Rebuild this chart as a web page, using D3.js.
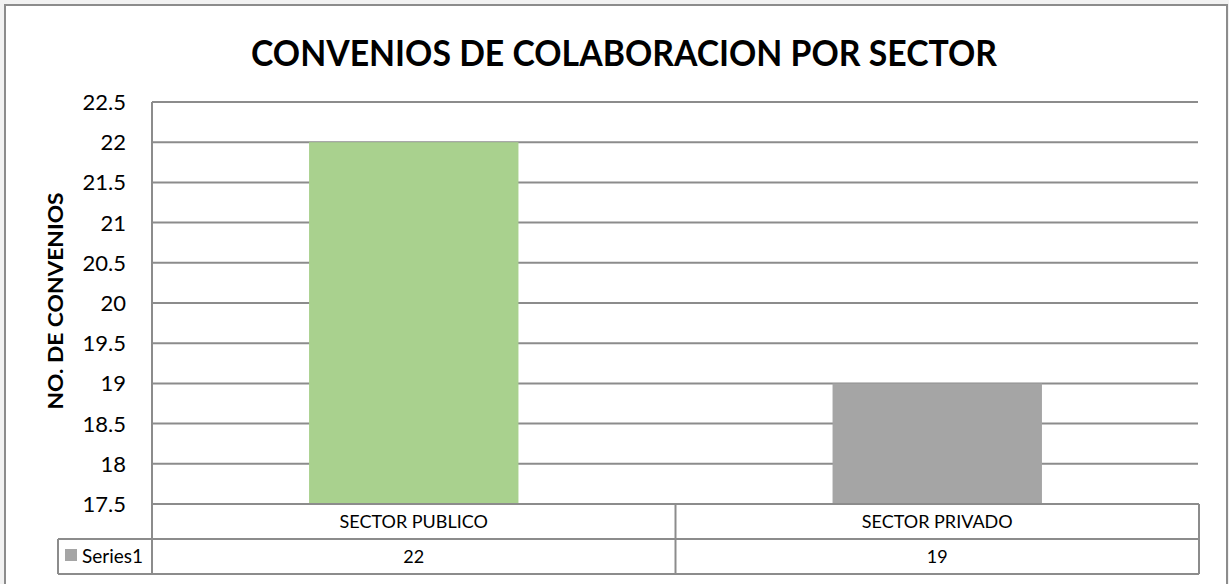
<!DOCTYPE html>
<html>
<head>
<meta charset="utf-8">
<script src="https://cdn.jsdelivr.net/npm/d3@7"></script>
<style>
  html, body { margin: 0; padding: 0; background: #f2f2f2; }
  svg { display: block; }
</style>
</head>
<body>
<div id="chart"></div>
<script>
// data
var categories = ['SECTOR PUBLICO', 'SECTOR PRIVADO'];
var values = [22, 19];
var barColors = ['#a9d18e', '#a5a5a5'];
var seriesName = 'Series1';
var yTicks = [17.5, 18, 18.5, 19, 19.5, 20, 20.5, 21, 21.5, 22, 22.5];

var width = 1229;
var height = 584;
var plotLeft = 152, plotRight = 1199, plotTop = 102, plotBottom = 504;
var rowH = 35;
var lineColor = '#8c8c8c';
var font = 'Lato, "Open Sans", sans-serif';

var svg = d3.select('#chart')
  .append('svg')
  .attr('width', width)
  .attr('height', height);

// chart area
svg.append('rect')
  .attr('x', 5).attr('y', 5)
  .attr('width', 1222).attr('height', 600)
  .attr('fill', 'white')
  .attr('stroke', lineColor)
  .attr('stroke-width', 2);

var x = d3.scaleBand()
  .domain(categories)
  .range([plotLeft, plotRight])
  .paddingInner(0.6)
  .paddingOuter(0.3);

var y = d3.scaleLinear()
  .domain([17.5, 22.5])
  .range([plotBottom, plotTop]);

// gridlines
svg.selectAll('line.grid')
  .data(yTicks)
  .enter()
  .append('line')
  .attr('class', 'grid')
  .attr('x1', plotLeft)
  .attr('x2', plotRight - 1)
  .attr('y1', d => y(d))
  .attr('y2', d => y(d))
  .attr('stroke', lineColor)
  .attr('stroke-width', 2);

// tick labels
svg.selectAll('text.tick')
  .data(yTicks)
  .enter()
  .append('text')
  .attr('class', 'tick')
  .attr('x', 126)
  .attr('y', d => y(d))
  .attr('dy', '0.36em')
  .attr('text-anchor', 'end')
  .style('font-family', font)
  .style('font-size', '22px')
  .attr('fill', '#000')
  .text(d => String(d));

// bars
svg.selectAll('rect.bar')
  .data(values)
  .enter()
  .append('rect')
  .attr('class', 'bar')
  .attr('x', (d, i) => x(categories[i]))
  .attr('width', x.bandwidth())
  .attr('y', d => y(d))
  .attr('height', d => plotBottom - y(d))
  .attr('fill', (d, i) => barColors[i]);

// data table
var t = svg.append('g')
  .attr('stroke', lineColor)
  .attr('stroke-width', 2);

t.append('line').attr('x1', plotLeft).attr('x2', plotLeft).attr('y1', plotTop).attr('y2', plotBottom + 2 * rowH);
t.append('line').attr('x1', plotLeft).attr('x2', plotRight).attr('y1', plotBottom).attr('y2', plotBottom);
t.append('line').attr('x1', 58).attr('x2', plotRight).attr('y1', plotBottom + rowH).attr('y2', plotBottom + rowH);
t.append('line').attr('x1', 58).attr('x2', plotRight).attr('y1', plotBottom + 2 * rowH).attr('y2', plotBottom + 2 * rowH);
t.append('line').attr('x1', 58).attr('x2', 58).attr('y1', plotBottom + rowH).attr('y2', plotBottom + 2 * rowH);
t.append('line').attr('x1', plotRight).attr('x2', plotRight).attr('y1', plotBottom).attr('y2', plotBottom + 2 * rowH);

var dividers = categories.slice(1).map(c => x(c) - x.step() * x.paddingInner() / 2);
t.selectAll('line.div')
  .data(dividers)
  .enter()
  .append('line')
  .attr('class', 'div')
  .attr('x1', d => d).attr('x2', d => d)
  .attr('y1', plotBottom).attr('y2', plotBottom + 2 * rowH);

svg.selectAll('text.cat')
  .data(categories)
  .enter()
  .append('text')
  .attr('class', 'cat')
  .attr('x', d => x(d) + x.bandwidth() / 2)
  .attr('y', plotBottom + rowH / 2)
  .attr('dy', '0.36em')
  .attr('text-anchor', 'middle')
  .style('font-family', font)
  .style('font-size', '18px')
  .text(d => d);

svg.selectAll('text.val')
  .data(values)
  .enter()
  .append('text')
  .attr('class', 'val')
  .attr('x', (d, i) => x(categories[i]) + x.bandwidth() / 2)
  .attr('y', plotBottom + rowH * 1.5)
  .attr('dy', '0.36em')
  .attr('text-anchor', 'middle')
  .style('font-family', font)
  .style('font-size', '18px')
  .text(d => d);

// legend key
svg.append('rect')
  .attr('x', 65).attr('y', plotBottom + rowH + 10)
  .attr('width', 12).attr('height', 12)
  .attr('fill', barColors[1]);

svg.append('text')
  .attr('x', 82)
  .attr('y', plotBottom + rowH * 1.5)
  .attr('dy', '0.36em')
  .style('font-family', font)
  .style('font-size', '19px')
  .text(seriesName);

// titles
svg.append('text')
  .attr('x', 624)
  .attr('y', 66)
  .attr('text-anchor', 'middle')
  .attr('textLength', 746)
  .attr('lengthAdjust', 'spacingAndGlyphs')
  .style('font-family', font)
  .style('font-weight', 'bold')
  .style('font-size', '37px')
  .text('CONVENIOS DE COLABORACION POR SECTOR');

svg.append('text')
  .attr('transform', 'translate(63,301) rotate(-90)')
  .attr('text-anchor', 'middle')
  .attr('textLength', 217)
  .attr('lengthAdjust', 'spacingAndGlyphs')
  .style('font-family', font)
  .style('font-weight', 'bold')
  .style('font-size', '21px')
  .text('NO. DE CONVENIOS');
</script>
</body>
</html>
